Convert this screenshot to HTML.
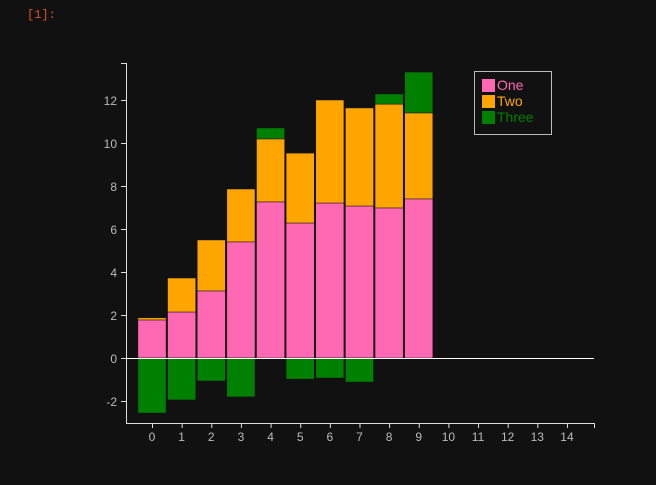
<!DOCTYPE html>
<html style="margin:0;width:656px;height:485px;overflow:hidden"><head><meta charset="utf-8"><style>
body{margin:0;background:#111;width:656px;height:485px;overflow:hidden;font-family:"Liberation Sans",sans-serif;position:relative}
#c{display:block;position:absolute;left:0;top:0}
#p{position:absolute;left:27px;top:8px;color:#d9541e;font:12px "Liberation Mono",monospace;z-index:1}
</style></head><body>
<div id="p">[1]:</div>
<svg id="c" width="656" height="485"></svg>
<script>
const categories=[0,1,2,3,4,5,6,7,8,9];
const one=[1.77,2.14,3.12,5.4,7.26,6.28,7.21,7.07,6.98,7.4];
const two=[0.1,1.58,2.37,2.46,2.93,3.25,4.79,4.56,4.83,4.0];
const three=[-2.56,-1.95,-1.07,-1.81,0.51,-0.98,-0.93,-1.12,0.47,1.9];
const xTicks=[0,1,2,3,4,5,6,7,8,9,10,11,12,13,14];
const yTicks=[-2,0,2,4,6,8,10,12];
const seriesNames=["One","Two","Three"];
const colors=["#ff69b4","#ffa500","#008000"];
const NS="http://www.w3.org/2000/svg",svg=document.getElementById('c');
const X=v=>152+v*29.64, Y=v=>358-v*21.5;
function mk(t,a,p){const e=document.createElementNS(NS,t);for(const k in a)e.setAttribute(k,a[k]);(p||svg).appendChild(e);return e;}
const bw=0.95*29.64;
categories.forEach((c,i)=>{
  const stack=[one[i],two[i],three[i]];let pos=0,neg=0;
  stack.forEach((v,s)=>{let y0,y1;if(v>=0){y0=pos;y1=pos+v;pos=y1;}else{y0=neg;y1=neg+v;neg=y1;}
    const r=mk('rect',{x:X(c)-bw/2,y:Y(Math.max(y0,y1)),width:bw,height:Math.abs(Y(y1)-Y(y0)),fill:colors[s],stroke:'#111','stroke-width':0.5});
    
    
  });
});
const ax=mk('g',{stroke:'#ddd','stroke-width':1,fill:'none'});

mk('line',{x1:126.5,y1:63,x2:126.5,y2:423},ax);
mk('line',{x1:126,y1:423.5,x2:594,y2:423.5},ax);
mk('line',{x1:121,y1:63.5,x2:126,y2:63.5},ax);
mk('line',{x1:594.5,y1:423,x2:594.5,y2:428},ax);
mk('line',{x1:126,y1:Y(0)+0.5,x2:594,y2:Y(0)+0.5,stroke:'#fff'});
yTicks.forEach(t=>{mk('line',{x1:121,y1:Y(t)+0.5,x2:126,y2:Y(t)+0.5},ax);
  const tx=mk('text',{x:117,y:Y(t)+5,fill:'#bbb','font-size':12,'text-anchor':'end'});tx.textContent=t;
  });
xTicks.forEach(t=>{mk('line',{x1:X(t)+0.5,y1:423,x2:X(t)+0.5,y2:428},ax);
  const tx=mk('text',{x:X(t),y:441,fill:'#bbb','font-size':12,'text-anchor':'middle'});tx.textContent=t;
  });
const lg=mk('g',{});
mk('rect',{x:474.5,y:71.5,width:77,height:63,fill:'#111',stroke:'#bbb'},lg);
seriesNames.forEach((n,i)=>{mk('rect',{x:482,y:79+i*16,width:13,height:13,fill:colors[i]},lg);
  const t=mk('text',{x:497,y:90+i*16,fill:colors[i],'font-size':14},lg);t.textContent=n;
  });
</script>
</body></html>
